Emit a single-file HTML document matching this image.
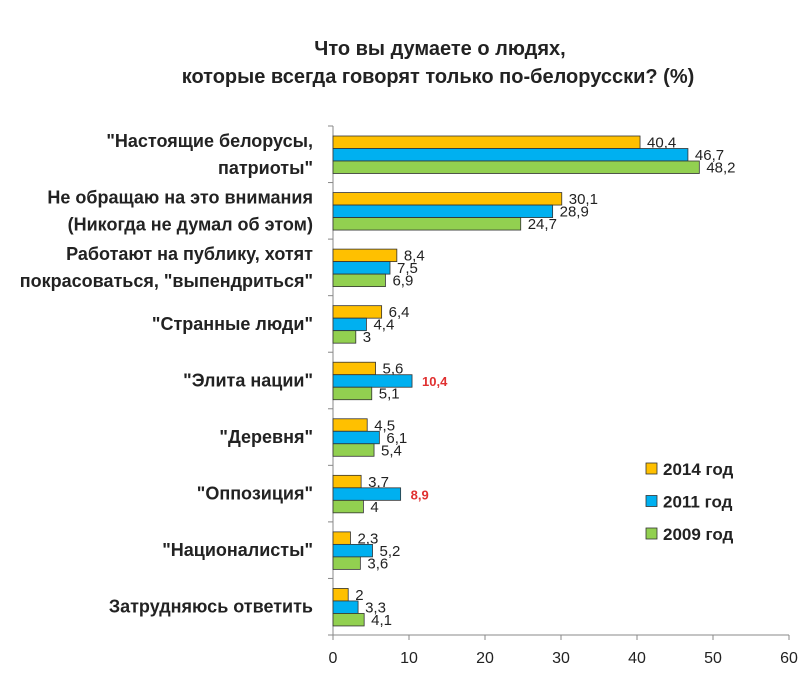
<!DOCTYPE html>
<html><head><meta charset="utf-8"><style>
body{margin:0;background:#fff;font-family:"Liberation Sans","DejaVu Sans",sans-serif}
</style></head><body>
<svg width="804" height="670" xmlns="http://www.w3.org/2000/svg">
<text x="440" y="55" text-anchor="middle" font-size="20" font-weight="bold" fill="#222">Что вы думаете о  людях,</text>
<text x="438" y="83" text-anchor="middle" font-size="20" font-weight="bold" fill="#222">которые всегда говорят только по-белорусски? (%)</text>
<g id="plot"></g>
</svg>
<script>
const categories=[["\"Настоящие белорусы,","патриоты\""],["Не обращаю на это внимания","(Никогда не думал об этом)"],["Работают на публику, хотят","покрасоваться, \"выпендриться\""],["\"Странные люди\""],["\"Элита нации\""],["\"Деревня\""],["\"Оппозиция\""],["\"Националисты\""],["Затрудняюсь ответить"]];
const s2014=[40.4,30.1,8.4,6.4,5.6,4.5,3.7,2.3,2];
const s2011=[46.7,28.9,7.5,4.4,10.4,6.1,8.9,5.2,3.3];
const s2009=[48.2,24.7,6.9,3,5.1,5.4,4,3.6,4.1];
const ticks=[0,10,20,30,40,50,60];
const seriesNames=["2014 год","2011 год","2009 год"];
const colors=["#FFC000","#00B0F0","#92D050"];
const NS="http://www.w3.org/2000/svg";
const g=document.getElementById('plot');
const x0=333,x1=789,yTop=126,yBot=635;
const xs=v=>x0+(v-0)/(60-0)*(x1-x0);
const gh=(yBot-yTop)/categories.length;
function el(t,a){const e=document.createElementNS(NS,t);for(const k in a)e.setAttribute(k,a[k]);g.appendChild(e);return e;}
let ax=el('line',{x1:x0,y1:yTop,x2:x0,y2:yBot,stroke:'#888'});


let bx=el('line',{x1:x0,y1:yBot,x2:x1,y2:yBot,stroke:'#888'});


ticks.forEach(t=>{
 el('line',{x1:xs(t),y1:yBot,x2:xs(t),y2:yBot+5,stroke:'#888'});
 const tx=el('text',{x:xs(t),y:yBot+28,'text-anchor':'middle','font-size':16,fill:'#222'});
 tx.textContent=t;
 
 
});
for(let i=0;i<=categories.length;i++)el('line',{x1:x0-5,y1:yTop+i*gh,x2:x0,y2:yTop+i*gh,stroke:'#888'});
const series=[s2014,s2011,s2009];
const bh=12.5;
categories.forEach((c,i)=>{
 const gy=yTop+i*gh;
 const cy=gy+gh/2;
 c.forEach((line,j)=>{
  const t=el('text',{x:313,y:cy+6+(j-(c.length-1)/2)*27,'text-anchor':'end','font-size':18,'font-weight':'bold',fill:'#222'});
  t.textContent=line;
  
  
 });
 series.forEach((s,k)=>{
  const y=gy+10+k*bh;
  const r=el('rect',{x:x0,y:y,width:xs(s[i])-x0,height:bh,fill:colors[k],stroke:'#333','stroke-width':0.8});
  
  
  const red=(k===1&&(i===4||i===6));
  const t=el('text',{x:xs(s[i])+(red?10:7),y:y+bh-1,'font-size':red?13:15,'font-weight':red?'bold':'normal',fill:red?'#E03030':'#222'});
  t.textContent=String(s[i]).replace('.',',');
  
  
 });
});
seriesNames.forEach((n,k)=>{
 const y=463+k*32.5;
 const r=el('rect',{x:646,y:y,width:11,height:11,fill:colors[k],stroke:'#333','stroke-width':0.8});
 
 
 const t=el('text',{x:663,y:y+12,'font-size':17,'font-weight':'bold',fill:'#222'});
 t.textContent=n;
 
 
});
</script>
</body></html>
